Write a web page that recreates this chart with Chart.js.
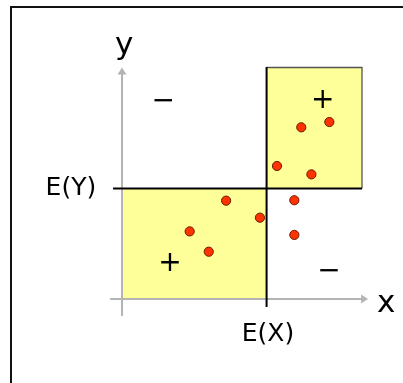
<!DOCTYPE html>
<html>
<head>
<meta charset="utf-8">
<script src="https://cdn.jsdelivr.net/npm/chart.js@4"></script>
<style>
  html, body { margin: 0; padding: 0; background: #fff; }
  #wrap { position: relative; width: 403px; height: 383px; }
  canvas { display: block; }
</style>
</head>
<body>
<div id="wrap"><canvas id="c" width="403" height="383"></canvas></div>
<script>
// ---- data ----
const meanX = 5;
const meanY = 5;
const pointsX = [6.20, 7.17, 5.36, 6.55, 3.60, 4.77, 2.34, 3.00, 5.96, 5.96];
const pointsY = [7.77, 8.01, 6.02, 5.64, 4.45, 3.68, 3.06, 2.14, 4.47, 2.90];
const boxFarCorner = [8.3, 10.5];           // upper-right corner of the upper box
const axisNames = ['x', 'y'];
const meanNames = ['E(X)', 'E(Y)'];
const signTexts = ['\u2212', '+', '+', '\u2212'];
const signX = [1.42, 6.93, 1.65, 7.15];
const signY = [9.00, 9.06, 1.69, 1.31];

const points = pointsX.map((x, i) => ({ x: x, y: pointsY[i] }));

function inkCenter(ctx, text, cx, cy) {
  const m = ctx.measureText(text);
  const w = m.actualBoundingBoxLeft + m.actualBoundingBoxRight;
  const h = m.actualBoundingBoxAscent + m.actualBoundingBoxDescent;
  const x = cx - w / 2 + m.actualBoundingBoxLeft;
  const y = cy - h / 2 + m.actualBoundingBoxAscent;
  ctx.textAlign = 'left';
  ctx.textBaseline = 'alphabetic';
  ctx.fillText(text, x, y);
}

const FONT = '"DejaVu Sans", Verdana, sans-serif';

const diagram = {
  id: 'diagram',
  beforeDatasetsDraw(chart) {
    const ctx = chart.ctx;
    const sx = chart.scales.x, sy = chart.scales.y;
    const px = v => sx.getPixelForValue(v);
    const py = v => sy.getPixelForValue(v);
    ctx.save();

    // outer frame
    ctx.strokeStyle = '#111';
    ctx.lineWidth = 2;
    ctx.strokeRect(11, 7, 600, 600);

    // yellow boxes
    ctx.fillStyle = '#ffff99';
    ctx.fillRect(px(0), py(meanY), px(meanX) - px(0), py(0) - py(meanY));
    ctx.fillRect(px(meanX), py(boxFarCorner[1]), px(boxFarCorner[0]) - px(meanX), py(meanY) - py(boxFarCorner[1]));
    // upper box outline (top + right)
    ctx.strokeStyle = '#555';
    ctx.lineWidth = 1.3;
    ctx.beginPath();
    ctx.moveTo(px(meanX), py(boxFarCorner[1]) + 0.5);
    ctx.lineTo(px(boxFarCorner[0]), py(boxFarCorner[1]) + 0.5);
    ctx.lineTo(px(boxFarCorner[0]), py(meanY));
    ctx.stroke();

    // gray axes with arrows
    const gray = '#b4b4b4';
    ctx.strokeStyle = gray;
    ctx.fillStyle = gray;
    ctx.lineWidth = 2;
    const ax0 = px(0), ay0 = py(0);
    const xEnd = px(8.51), yEnd = py(10.48);
    ctx.beginPath();
    ctx.moveTo(px(-0.41), ay0);
    ctx.lineTo(xEnd - 5, ay0);
    ctx.moveTo(ax0, py(-0.77));
    ctx.lineTo(ax0, yEnd + 5);
    ctx.stroke();
    ctx.beginPath();
    ctx.moveTo(xEnd, ay0);
    ctx.lineTo(xEnd - 7, ay0 - 4.5);
    ctx.lineTo(xEnd - 7, ay0 + 4.5);
    ctx.closePath();
    ctx.moveTo(ax0, yEnd);
    ctx.lineTo(ax0 - 4.5, yEnd + 7);
    ctx.lineTo(ax0 + 4.5, yEnd + 7);
    ctx.closePath();
    ctx.fill();

    // mean lines (black)
    ctx.strokeStyle = '#000';
    ctx.lineWidth = 2;
    ctx.beginPath();
    ctx.moveTo(px(-0.31), py(meanY));
    ctx.lineTo(px(boxFarCorner[0]), py(meanY));
    ctx.moveTo(px(meanX), py(boxFarCorner[1]));
    ctx.lineTo(px(meanX), py(-0.36));
    ctx.stroke();

    // signs
    ctx.fillStyle = '#000';
    ctx.font = '28px ' + FONT;
    signTexts.forEach((t, i) => inkCenter(ctx, t, px(signX[i]), py(signY[i])));

    // labels
    ctx.font = '25px ' + FONT;
    inkCenter(ctx, meanNames[0], px(meanX) + 1.5, py(0) + 34);
    inkCenter(ctx, meanNames[1], px(0) - 51, py(meanY) - 1);
    ctx.font = '31px ' + FONT;
    inkCenter(ctx, axisNames[0], px(8.51) + 18, py(0) + 4.5);
    inkCenter(ctx, axisNames[1], px(0) + 2, py(10.48) - 19);

    ctx.restore();
  }
};

new Chart(document.getElementById('c'), {
  type: 'scatter',
  data: {
    datasets: [{
      data: points,
      pointRadius: 4.6,
      pointBackgroundColor: '#ff3300',
      pointBorderColor: '#6b1a00',
      pointBorderWidth: 1,
      clip: false
    }]
  },
  options: {
    responsive: false,
    animation: false,
    events: [],
    layout: { padding: { left: 122, right: 41, top: 67, bottom: 84 } },
    plugins: { legend: { display: false }, tooltip: { enabled: false }, title: { display: false } },
    scales: {
      x: { type: 'linear', min: 0, max: boxFarCorner[0], display: false },
      y: { type: 'linear', min: 0, max: boxFarCorner[1], display: false }
    }
  },
  plugins: [diagram]
});
</script>
</body>
</html>
